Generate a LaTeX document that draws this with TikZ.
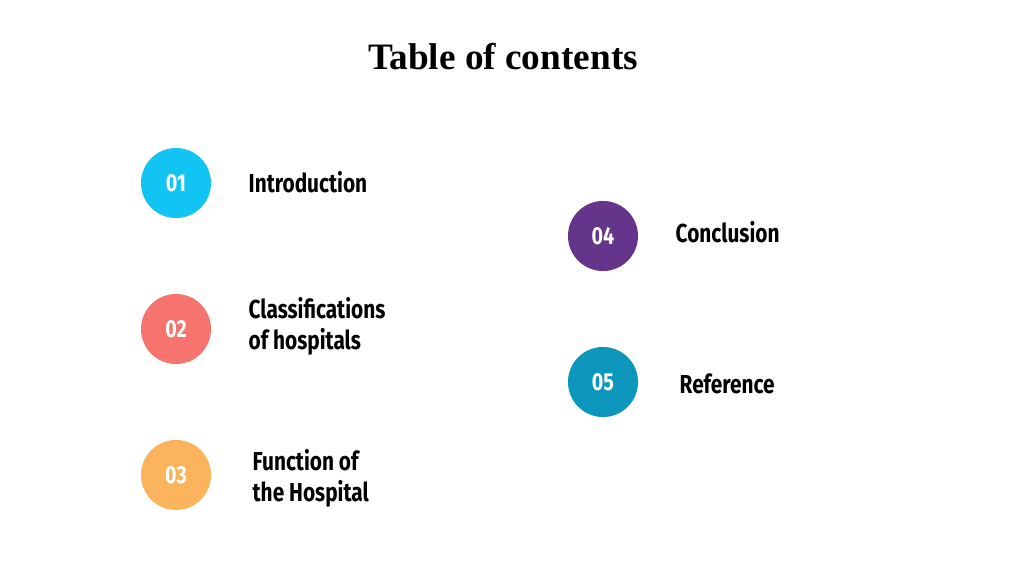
\documentclass[tikz,border=0pt]{standalone}
\usepackage{fontspec}
\setmainfont{Liberation Serif}
\newfontfamily\labelfont{Fira Sans}
\usetikzlibrary{positioning}
\definecolor{tocone}{HTML}{12C4F4}
\definecolor{toctwo}{HTML}{F7736E}
\definecolor{tocthree}{HTML}{FBB45C}
\definecolor{tocfour}{HTML}{64358A}
\definecolor{tocfive}{HTML}{0C96BC}
\newcommand{\tocnarrow}[1]{\scalebox{0.8}[1]{#1}}
\tikzset{
  numdot/.style={circle, minimum size=0.70cm, inner sep=0pt, text=white,
    font=\labelfont\bfseries\fontsize{7}{8}\selectfont},
  toclabel/.style={anchor=west, align=left, inner sep=0pt,
    font=\labelfont\bfseries\fontsize{7.4}{8.8}\selectfont}
}
\begin{document}
\begin{tikzpicture}[x=0.01cm, y=-0.01cm]
\useasboundingbox (0,0) rectangle (1024,576);
\fill[white] (0,0) rectangle (1024,576);

% title
\node (title) at (503,57) {\fontsize{10.6}{12}\selectfont\bfseries Table of contents};

% left column
\node[numdot, fill=tocone] (n1) at (176,183) {\tocnarrow{01}};
\node[numdot, fill=toctwo] (n2) at (176,329) {\tocnarrow{02}};
\node[numdot, fill=tocthree] (n3) at (176,475) {\tocnarrow{03}};
\node[toclabel] (l1) at (248,182) {\tocnarrow{Introduction}};
\node[toclabel] (l2) at (248,326) {\tocnarrow{Classifications}\\\tocnarrow{of hospitals}};
\node[toclabel] (l3) at (252,478) {\tocnarrow{Function of}\\\tocnarrow{the Hospital}};

% right column
\node[numdot, fill=tocfour] (n4) at (603,236) {\tocnarrow{04}};
\node[numdot, fill=tocfive] (n5) at (603,382) {\tocnarrow{05}};
\node[toclabel] (l4) at (675,232) {\tocnarrow{Conclusion}};
\node[toclabel] (l5) at (679,384) {\tocnarrow{Reference}};
\end{tikzpicture}
\end{document}
